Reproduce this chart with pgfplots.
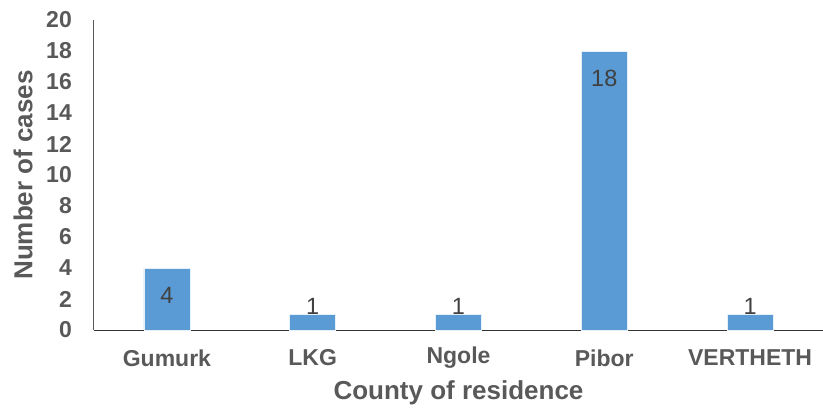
\documentclass[border=0pt]{standalone}
\usepackage{pgfplots}
\pgfplotsset{compat=1.18}
\usepackage{pgfplotstable}
\usepackage{fontspec}
\setmainfont{Liberation Sans}
\definecolor{barblue}{HTML}{5B9BD5}
\definecolor{txtgray}{HTML}{595959}
\definecolor{lblgray}{HTML}{404040}

% x = category index, y = cases, off = shift of the value label (pt)
\pgfplotstableread{
x y off
0 4 -27
1 1 8
2 1 8
3 18 -27
4 1 8
}\cases

\begin{document}
\begin{tikzpicture}
\useasboundingbox (-94pt,-80pt) rectangle (729pt,330pt);
\begin{axis}[
    scale only axis,
    width=729pt, height=310pt,
    at={(0,0)}, anchor=south west,
    ybar, bar width=46pt,
    xmin=-0.5, xmax=4.5,
    ymin=0, ymax=20,
    ytick={0,2,...,20},
    xtick=data,
    xticklabels={Gumurk, LKG, Ngole, Pibor, VERTHETH},
    axis x line*=bottom, axis y line*=left,
    x axis line style={black!80, line width=1pt, -},
    y axis line style={txtgray, line width=1pt, -},
    major tick length=0pt,
    /pgf/number format/assume math mode=true,
    tick label style={font=\fontsize{23}{26}\selectfont\bfseries, text=txtgray, inner sep=0pt},
    yticklabel style={anchor=east, xshift=-22pt},
    xticklabel style={anchor=center, yshift=-28pt},
    xlabel={County of residence},
    ylabel={Number of cases},
    every axis x label/.style={at={(rel axis cs:0.5,0)}, yshift=-63pt, anchor=center,
        font=\fontsize{26}{30}\selectfont\bfseries, text=txtgray},
    every axis y label/.style={at={(rel axis cs:0,0.5)}, xshift=-71pt, anchor=center, rotate=90,
        font=\fontsize{26}{30}\selectfont\bfseries, text=txtgray},
    nodes near coords,
    visualization depends on={\thisrow{off} \as \off},
    nodes near coords style={font=\fontsize{23.5}{27}\selectfont, text=lblgray,
        anchor=center, yshift=\off pt},
    point meta=explicit,
]
\addplot[fill=barblue, draw=white!85!barblue, line width=0.6pt]
    table[x=x, y=y, meta=y] {\cases};
\end{axis}
\end{tikzpicture}
\end{document}
